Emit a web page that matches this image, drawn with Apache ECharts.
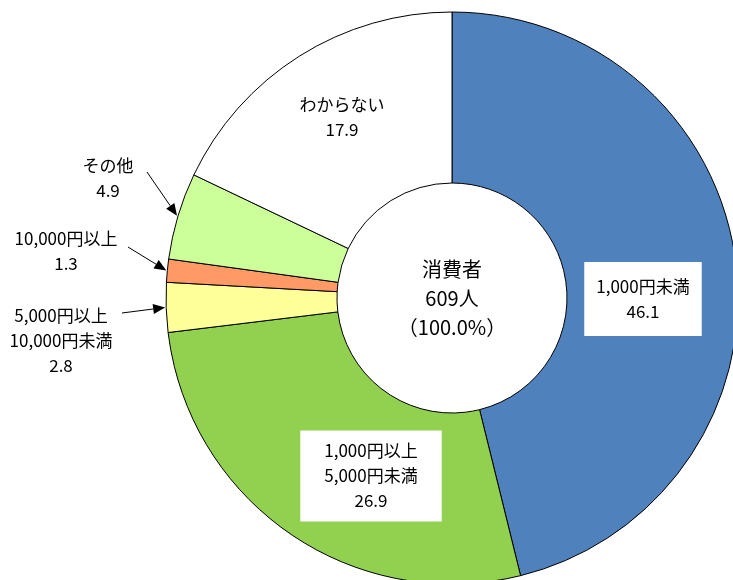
<!DOCTYPE html>
<html>
<head>
<meta charset="utf-8">
<script src="https://cdn.jsdelivr.net/npm/echarts@6/dist/echarts.min.js"></script>
<style>
  html, body { margin: 0; padding: 0; background: #fff; }
  #main { width: 733px; height: 580px; }
</style>
</head>
<body>
<div id="main"></div>
<script>
  // 데이터
  var categories = ['1,000円未満', '1,000円以上\n5,000円未満', '5,000円以上\n10,000円未満', '10,000円以上', 'その他', 'わからない'];
  var values = [46.1, 26.9, 2.8, 1.3, 4.9, 17.9];
  var colors = ['#4f81bd', '#92d050', '#ffff99', '#ff9966', '#ccff99', '#ffffff'];
  var centerLines = ['消費者', '609人', '（100.0%）'];

  // 레이아웃
  var cx = 452, cy = 298, rIn = 115, rOut = 286;
  var font = 'Noto Sans CJK JP';
  var labelPos = [[643, 299], [371, 476], [61, 341], [66, 251], [108, 178], [342, 117]];
  var arrowFrom = { 2: [122, 313], 3: [128, 247], 4: [147, 172] };

  var myChart = echarts.init(document.getElementById('main'));

  // 슬라이스 가운데 각도 -> 바깥 가장자리 점
  var total = values.reduce(function (a, b) { return a + b; }, 0);
  var cum = 0;
  var edgePts = values.map(function (v) {
    var mid = (cum + v / 2) / total;
    cum += v;
    var t = mid * Math.PI * 2;
    return [cx + (rOut + 1) * Math.sin(t), cy - (rOut + 1) * Math.cos(t)];
  });

  // 화살표
  var arrows = [];
  Object.keys(arrowFrom).forEach(function (k) {
    var s = arrowFrom[k], e = edgePts[k];
    var dx = e[0] - s[0], dy = e[1] - s[1];
    var len = Math.sqrt(dx * dx + dy * dy);
    var ux = dx / len, uy = dy / len;
    var hl = 12, hw = 5;
    var bx = e[0] - ux * hl, by = e[1] - uy * hl;
    arrows.push({
      type: 'line',
      shape: { x1: s[0], y1: s[1], x2: bx, y2: by },
      style: { stroke: '#000', lineWidth: 1 },
      z: 10
    });
    arrows.push({
      type: 'polygon',
      shape: { points: [e, [bx - uy * hw, by + ux * hw], [bx + uy * hw, by - ux * hw]] },
      style: { fill: '#000' },
      z: 10
    });
  });

  var data = categories.map(function (name, i) {
    var item = { name: name, value: values[i], itemStyle: { color: colors[i] } };
    if (i === 0) {
      item.label = { backgroundColor: '#fff', padding: [12, 12] };
    } else if (i === 1) {
      item.label = { backgroundColor: '#fff', padding: [8, 24] };
    }
    return item;
  });

  var option = {
    animation: false,
    graphic: arrows.concat([
      {
        type: 'text',
        x: cx, y: cy,
        style: {
          text: centerLines.join('\n'),
          fontFamily: font,
          fontSize: 20,
          lineHeight: 29,
          fill: '#000',
          align: 'center',
          verticalAlign: 'middle'
        },
        z: 10
      }
    ]),
    series: [
      {
        type: 'pie',
        center: [cx, cy],
        radius: [rIn, rOut],
        startAngle: 90,
        clockwise: true,
        avoidLabelOverlap: false,
        itemStyle: { borderColor: '#000', borderWidth: 1 },
        emphasis: { disabled: true },
        label: {
          show: true,
          position: 'inside',
          formatter: '{b}\n{c}',
          color: '#000',
          fontFamily: font,
          fontSize: 17,
          lineHeight: 25,
          align: 'center'
        },
        labelLine: { show: false },
        labelLayout: function (params) {
          var p = labelPos[params.dataIndex];
          return { x: p[0], y: p[1], align: 'center', verticalAlign: 'middle' };
        },
        data: data
      }
    ]
  };

  myChart.setOption(option);
</script>
</body>
</html>
